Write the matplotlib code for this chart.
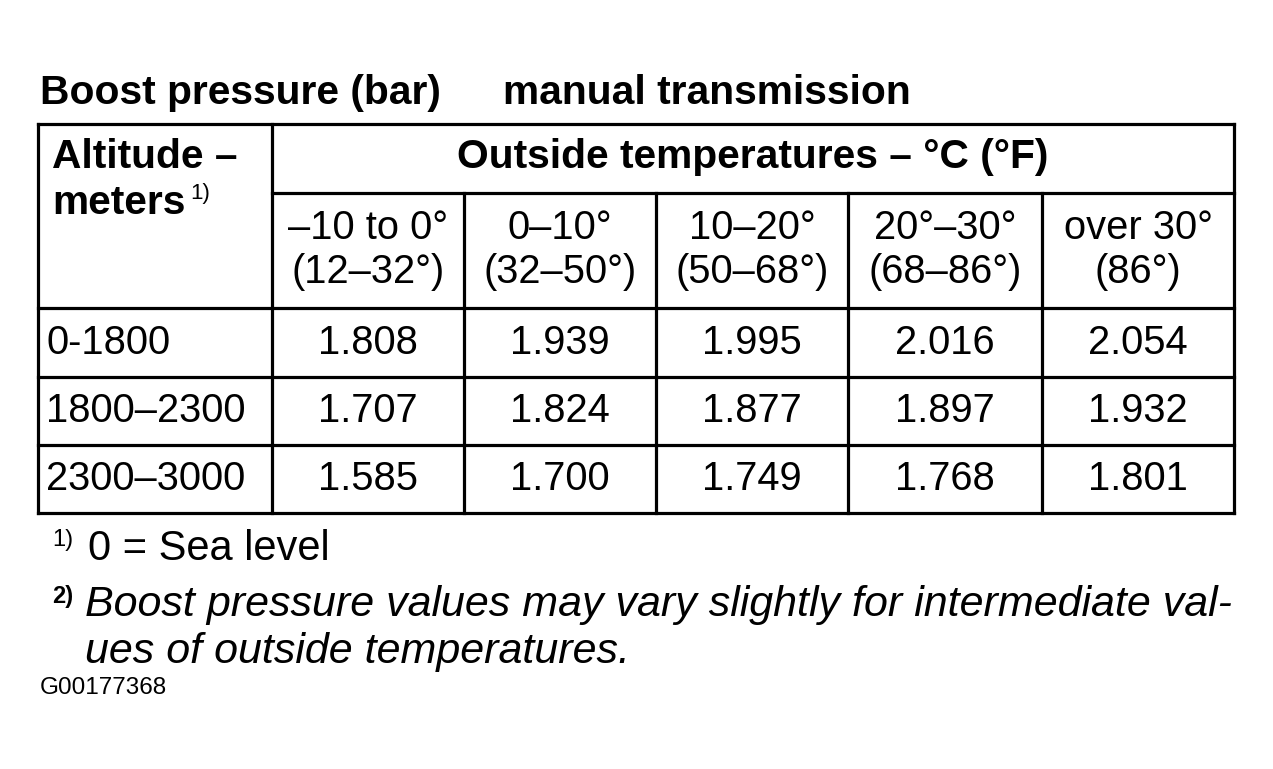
import matplotlib
matplotlib.use('Agg')
from matplotlib import pyplot as plt

# table content
title_left = 'Boost pressure (bar)'
title_right = 'manual transmission'
group_header = 'Outside temperatures – °C (°F)'
col_top = ['–10 to 0°', '0–10°', '10–20°', '20°–30°', 'over 30°']
col_bottom = ['(12–32°)', '(32–50°)', '(50–68°)', '(68–86°)', '(86°)']
row_labels = ['0-1800', '1800–2300', '2300–3000']
values = [
    [1.808, 1.939, 1.995, 2.016, 2.054],
    [1.707, 1.824, 1.877, 1.897, 1.932],
    [1.585, 1.700, 1.749, 1.768, 1.801],
]
note1 = '0 = Sea level'
note2 = ['Boost pressure values may vary slightly for intermediate val-',
         'ues of outside temperatures.']
code = 'G00177368'

plt.rcParams['font.family'] = ['Liberation Sans', 'DejaVu Sans']

fig = plt.figure(figsize=(12.73, 7.69), dpi=100)
ax = fig.add_axes([0, 0, 1, 1])
ax.set_xlim(0, 1273)
ax.set_ylim(769, 0)
ax.axis('off')

# grid geometry in pixels
xs = [38, 272, 464, 656, 848, 1042, 1234]
y_top, y_sub, y_head = 124, 193, 308
y_rows = [308, 377, 445, 513]
lw = 2.3
kw = dict(color='black', lw=lw, solid_capstyle='projecting')

ax.plot([xs[0], xs[-1]], [y_top, y_top], **kw)
ax.plot([xs[1], xs[-1]], [y_sub, y_sub], **kw)
for y in y_rows:
    ax.plot([xs[0], xs[-1]], [y, y], **kw)
ax.plot([xs[0], xs[0]], [y_top, y_rows[-1]], **kw)
ax.plot([xs[1], xs[1]], [y_top, y_rows[-1]], **kw)
ax.plot([xs[-1], xs[-1]], [y_top, y_rows[-1]], **kw)
for x in xs[2:-1]:
    ax.plot([x, x], [y_sub, y_rows[-1]], **kw)

fs_b = 29.3
fs = 28.7
# title
ax.text(40, 93, title_left, fontsize=fs_b, fontweight='bold', ha='left', va='center')
ax.text(503, 93, title_right, fontsize=fs_b, fontweight='bold', ha='left', va='center')

# header cells
ax.text(52, 157, 'Altitude –', fontsize=fs_b, fontweight='bold', ha='left', va='center')
ax.text(52, 203, 'meters', fontsize=fs_b, fontweight='bold', ha='left', va='center')
ax.text(190, 193, '1)', fontsize=16, ha='left', va='center')
ax.text((xs[1] + xs[-1]) / 2, 157, group_header, fontsize=fs_b, fontweight='bold',
        ha='center', va='center')
for i in range(5):
    cx = (xs[i + 1] + xs[i + 2]) / 2
    ax.text(cx, 228, col_top[i], fontsize=fs, ha='center', va='center')
    ax.text(cx, 272, col_bottom[i], fontsize=fs, ha='center', va='center')

# body
for r, lab in enumerate(row_labels):
    cy = (y_rows[r] + y_rows[r + 1]) / 2
    ax.text(46, cy, lab, fontsize=fs, ha='left', va='center')
    for c, v in enumerate(values[r]):
        cx = (xs[c + 1] + xs[c + 2]) / 2
        ax.text(cx, cy, f'{v:.3f}', fontsize=fs, ha='center', va='center')

# footnotes
ax.text(52, 540, '1)', fontsize=17, ha='left', va='center')
ax.text(88, 549, note1, fontsize=30, ha='left', va='center')
ax.text(52, 596, '2)', fontsize=17, fontweight='bold', ha='left', va='center')
ax.text(85, 605, note2[0], fontsize=31, style='italic', ha='left', va='center')
ax.text(85, 652, note2[1], fontsize=31, style='italic', ha='left', va='center')
ax.text(40, 688, code, fontsize=17.5, ha='left', va='center')

fig.savefig('out.png', dpi=100, facecolor='white')
